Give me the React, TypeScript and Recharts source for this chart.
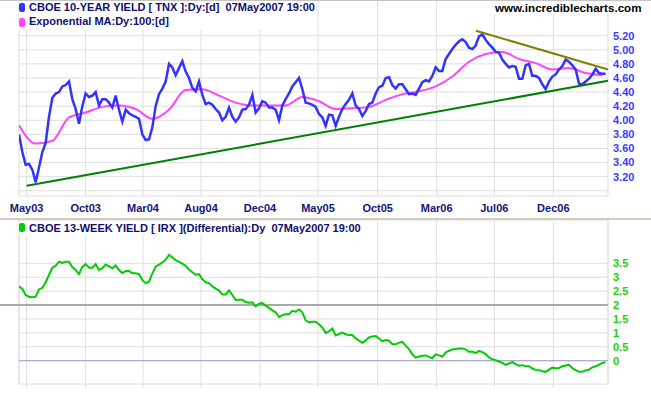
import { LineChart, Line, XAxis, YAxis, CartesianGrid, ReferenceLine } from "recharts";

// CBOE 10-year yield (TNX), one reading every ~6 trading days, May 2003 .. 07 May 2007
const tnxYield = [
  3.8, 3.55, 3.37, 3.38, 3.3, 3.12, 3.33, 3.55, 3.68, 4.05,
  4.32, 4.38, 4.4, 4.48, 4.5, 4.55, 4.3, 4.16, 3.95, 4.2,
  4.38, 4.33, 4.35, 4.4, 4.21, 4.3, 4.3, 4.25, 4.18, 4.35,
  4.15, 3.98, 4.15, 4.1, 4.07, 4.05, 4.02, 3.8, 3.72, 3.73,
  3.9, 4.2, 4.37, 4.45, 4.55, 4.8, 4.75, 4.64, 4.74, 4.84,
  4.69, 4.6, 4.46, 4.41, 4.55, 4.36, 4.23, 4.25, 4.22, 4.16,
  4.11, 4.0, 4.05, 4.18, 4.05, 3.98, 4.04, 4.15, 4.16, 4.22,
  4.36, 4.11, 4.17, 4.27, 4.25, 4.18, 4.18, 4.15, 4.0, 4.21,
  4.3, 4.38, 4.48, 4.54, 4.6, 4.44, 4.25, 4.24, 4.22, 4.19,
  4.09, 4.04, 3.92, 4.08, 4.07, 3.92, 4.05, 4.16, 4.23, 4.29,
  4.38, 4.21, 4.16, 4.06, 4.13, 4.23, 4.25, 4.38, 4.47, 4.49,
  4.6, 4.61, 4.5, 4.45, 4.51, 4.51, 4.44, 4.37, 4.38, 4.36,
  4.45, 4.54, 4.57, 4.55, 4.63, 4.75, 4.7, 4.7, 4.87, 4.94,
  5.01, 5.07, 5.12, 5.15, 5.11, 5.03, 5.01, 5.06, 5.19, 5.22,
  5.14, 5.08, 5.03, 4.97, 4.96, 4.86, 4.8, 4.75, 4.77, 4.76,
  4.59, 4.59, 4.78, 4.8, 4.63, 4.63, 4.6, 4.51, 4.44, 4.55,
  4.62, 4.65, 4.72, 4.77, 4.86, 4.83, 4.78, 4.72, 4.52, 4.51,
  4.55, 4.59, 4.65, 4.73, 4.67, 4.66, 4.66,
];

// 100-day exponential MA, read at every 5th sample
const emaEvery = 5;
const emaYield = [
  3.93, 3.67, 3.71, 4.04, 4.11, 4.19, 4.21, 4.16, 4.02, 4.15,
  4.43, 4.44, 4.35, 4.25, 4.21, 4.21, 4.21, 4.33, 4.27, 4.16,
  4.17, 4.19, 4.29, 4.37, 4.41, 4.48, 4.62, 4.83, 4.94, 4.97,
  4.87, 4.81, 4.72, 4.74, 4.67, 4.64,
];

// CBOE 13-week yield (IRX) differential, same sampling as tnxYield
const irxDiff = [
  2.67, 2.58, 2.36, 2.3, 2.28, 2.3, 2.56, 2.62, 2.82, 3.08,
  3.34, 3.41, 3.56, 3.51, 3.56, 3.56, 3.36, 3.26, 3.11, 3.37,
  3.47, 3.34, 3.34, 3.47, 3.26, 3.32, 3.46, 3.39, 3.32, 3.42,
  3.26, 3.15, 3.22, 3.22, 3.15, 3.14, 3.11, 2.9, 2.78, 2.84,
  3.14, 3.38, 3.45, 3.53, 3.63, 3.8, 3.72, 3.61, 3.55, 3.49,
  3.41, 3.28, 3.18, 3.09, 3.11, 2.93, 2.82, 2.79, 2.67, 2.59,
  2.52, 2.38, 2.38, 2.53, 2.36, 2.18, 2.19, 2.19, 2.11, 2.08,
  2.1, 1.95, 2.05, 2.07, 1.98, 1.9, 1.81, 1.74, 1.57, 1.64,
  1.67, 1.67, 1.79, 1.76, 1.84, 1.74, 1.45, 1.38, 1.4, 1.4,
  1.31, 1.19, 1.0, 1.05, 1.16, 0.91, 0.96, 1.01, 0.95, 0.92,
  0.92, 0.8, 0.72, 0.64, 0.73, 0.84, 0.87, 0.89, 0.8, 0.7,
  0.74, 0.72, 0.59, 0.59, 0.65, 0.68, 0.54, 0.42, 0.23, 0.11,
  0.15, 0.18, 0.19, 0.14, 0.09, 0.23, 0.19, 0.15, 0.29, 0.36,
  0.4, 0.42, 0.44, 0.44, 0.41, 0.32, 0.33, 0.27, 0.35, 0.31,
  0.24, 0.12, 0.05, 0.02, -0.03, -0.08, -0.15, -0.1, -0.05, -0.12,
  -0.18, -0.16, -0.2, -0.2, -0.28, -0.33, -0.34, -0.38, -0.4, -0.32,
  -0.25, -0.27, -0.26, -0.2, -0.17, -0.15, -0.27, -0.34, -0.4, -0.4,
  -0.35, -0.32, -0.24, -0.2, -0.14, -0.08, -0.06,
];

// month grid lines (sample position where the month label sits)
const monthTickAt = [2.3, 20.0, 37.2, 54.6, 72.3, 89.7, 107.6, 125.3, 142.6, 160.3];
const monthLabels = ["May03", "Oct03", "Mar04", "Aug04", "Dec04", "May05", "Oct05", "Mar06", "Jul06", "Dec06"];

const yieldTicks = [3.0, 3.2, 3.4, 3.6, 3.8, 4.0, 4.2, 4.4, 4.6, 4.8, 5.0, 5.2];
const diffTicks = [0, 0.5, 1, 1.5, 2, 2.5, 3, 3.5];

// hand-drawn trendlines: [sample, yield]
const supportLine = [
  { x: 2.3, y: 3.07 },
  { x: 176.7, y: 4.56 },
];
const resistanceLine = [
  { x: 137.1, y: 5.27 },
  { x: 176.7, y: 4.72 },
];

const X_MAX = 176.7;
const TOP_DOMAIN: [number, number] = [2.926, 5.706];
const BOT_DOMAIN: [number, number] = [-0.837, 5.056];
const FONT = "'Liberation Sans', Arial, sans-serif";
const GRID = "#dedede";

const topRows = tnxYield.map((v, i) => ({
  x: i,
  tnx: v,
  ema: i % emaEvery === 0 && emaYield[i / emaEvery] !== undefined ? emaYield[i / emaEvery] : null,
}));
const botRows = irxDiff.map((v, i) => ({ x: i, irx: v }));

const monthLabel = (v: number) => {
  const i = monthTickAt.indexOf(v);
  return i >= 0 ? monthLabels[i] : "";
};

const legendText: React.CSSProperties = {
  position: "absolute",
  fontFamily: FONT,
  fontWeight: "bold",
  fontSize: 11,
  lineHeight: "13px",
  color: "#10106e",
  whiteSpace: "pre",
};

function Swatch({ color, left, top }: { color: string; left: number; top: number }) {
  return (
    <div
      style={{ position: "absolute", left, top, width: 6, height: 9, background: color, borderRadius: 2 }}
    />
  );
}

export default function App() {
  return (
    <div
      style={{
        position: "absolute",
        left: 0,
        top: 0,
        width: 651,
        height: 395,
        background: "#fff",
        overflow: "hidden",
      }}
    >
      {/* upper panel: 10-year yield */}
      <div style={{ position: "absolute", left: 0, top: 0 }}>
        <LineChart width={651} height={219} data={topRows} margin={{ top: 0, right: 0, left: 19, bottom: 0 }}>
          <CartesianGrid stroke={GRID} />
          <XAxis
            dataKey="x"
            type="number"
            domain={[0, X_MAX]}
            ticks={[0, ...monthTickAt, X_MAX]}
            interval={0}
            allowDataOverflow
            tickFormatter={monthLabel}
            axisLine={false}
            tickLine={false}
            tickSize={0}
            tickMargin={8}
            height={23}
            tick={{ fill: "#14147a", fontSize: 11, fontWeight: "bold", fontFamily: FONT }}
          />
          <YAxis
            orientation="right"
            type="number"
            width={43}
            domain={TOP_DOMAIN}
            ticks={[TOP_DOMAIN[0], ...yieldTicks]}
            interval={0}
            allowDataOverflow
            tickFormatter={(v: number) => (v >= 3.1 ? v.toFixed(2) : "")}
            axisLine={false}
            tickLine={false}
            tickSize={3}
            tickMargin={2}
            tick={{ fill: "#3b3bff", fontSize: 11, fontWeight: "bold", fontFamily: FONT }}
          />
          <Line
            dataKey="ema"
            type="monotone"
            stroke="#ff44ff"
            strokeWidth={2}
            dot={false}
            connectNulls
            isAnimationActive={false}
          />
          <Line
            dataKey="tnx"
            type="linear"
            stroke="#3333ff"
            strokeWidth={2.5}
            dot={false}
            isAnimationActive={false}
          />
          <ReferenceLine segment={supportLine} stroke="#008000" strokeWidth={2} ifOverflow="visible" />
          <ReferenceLine segment={resistanceLine} stroke="#808000" strokeWidth={2} ifOverflow="visible" />
        </LineChart>
      </div>

      <div style={{ position: "absolute", left: 19, top: 0, width: 288, height: 30, background: "#fff" }} />
      <Swatch color="#3333ff" left={19} top={3} />
      <div style={{ ...legendText, left: 29, top: 1 }}>{"CBOE 10-YEAR YIELD [ TNX ]:Dy:[d]  07May2007 19:00"}</div>
      <Swatch color="#ff44ff" left={19} top={18} />
      <div style={{ ...legendText, left: 29, top: 15 }}>{"Exponential MA:Dy:100:[d]"}</div>

      <div
        style={{
          position: "absolute",
          left: 493,
          top: 0,
          width: 152,
          height: 14,
          background: "#fff",
        }}
      />
      <div style={{ ...legendText, left: 495, top: 1, color: "#000", fontSize: 11.6 }}>www.incrediblecharts.com</div>
      <div style={{ position: "absolute", left: 0, top: 0, width: 651, height: 1, background: "#c4c4c4" }} />

      {/* divider */}
      <div style={{ position: "absolute", left: 0, top: 218, width: 651, height: 2, background: "#d2cebe" }} />

      {/* lower panel: 13-week yield differential */}
      <div style={{ position: "absolute", left: 0, top: 220 }}>
        <LineChart width={651} height={175} data={botRows} margin={{ top: 0, right: 0, left: 19, bottom: 0 }}>
          <CartesianGrid stroke={GRID} />
          <XAxis
            dataKey="x"
            type="number"
            domain={[0, X_MAX]}
            ticks={monthTickAt}
            interval={0}
            allowDataOverflow
            tickFormatter={() => ""}
            axisLine={false}
            tickLine={{ stroke: GRID }}
            tickSize={4}
            height={11}
          />
          <YAxis
            orientation="right"
            type="number"
            width={43}
            domain={BOT_DOMAIN}
            ticks={[BOT_DOMAIN[0], ...diffTicks]}
            interval={0}
            allowDataOverflow
            tickFormatter={(v: number) => (v >= -0.1 ? String(v) : "")}
            axisLine={false}
            tickLine={false}
            tickSize={3}
            tickMargin={2}
            tick={{ fill: "#22d000", fontSize: 11, fontWeight: "bold", fontFamily: FONT }}
          />
          <ReferenceLine x={0} stroke={GRID} />
          <ReferenceLine x={X_MAX} stroke={GRID} />
          <ReferenceLine y={2} stroke="#aaaaaa" strokeWidth={2} />
          <ReferenceLine y={0} stroke="#9c9cd0" strokeWidth={1} />
          <Line
            dataKey="irx"
            type="linear"
            stroke="#00cc00"
            strokeWidth={2}
            dot={false}
            isAnimationActive={false}
          />
        </LineChart>
      </div>
      <div style={{ position: "absolute", left: 0, top: 304, width: 19, height: 2, background: "#aaaaaa" }} />

      <div style={{ position: "absolute", left: 19, top: 221, width: 338, height: 14, background: "#fff" }} />
      <Swatch color="#00cc00" left={19} top={223} />
      <div style={{ ...legendText, left: 29, top: 222 }}>
        {"CBOE 13-WEEK YIELD [ IRX ](Differential):Dy  07May2007 19:00"}
      </div>
    </div>
  );
}
